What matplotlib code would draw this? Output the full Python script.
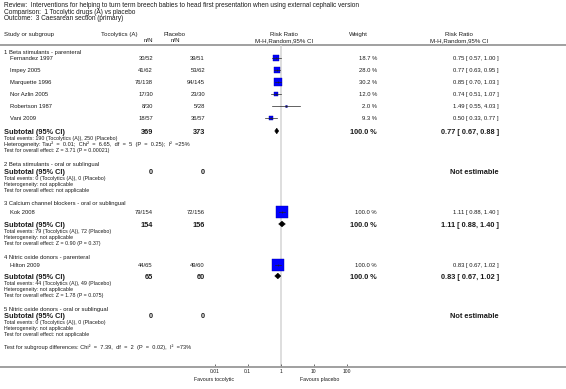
import matplotlib
matplotlib.use("Agg")
import matplotlib.pyplot as plt
from matplotlib.patches import Polygon

plt.rcParams['font.family'] = ['Liberation Sans', 'DejaVu Sans']

# ---- data ----
title_lines = [
    "Review:  Interventions for helping to turn term breech babies to head first presentation when using external cephalic version",
    "Comparison:  1 Tocolytic drugs (A) vs placebo",
    "Outcome:  3 Caesarean section (primary)",
]

group_titles = [
    "1 Beta stimulants - parenteral",
    "2 Beta stimulants - oral or sublingual",
    "3 Calcium channel blockers - oral or sublingual",
    "4 Nitric oxide donors - parenteral",
    "5 Nitric oxide donors - oral or sublingual",
]

studies = ["Fernandez 1997", "Impey 2005", "Marquette 1996", "Nor Azlin 2005",
           "Robertson 1987", "Vani 2009", "Kok 2008", "Hilton 2009"]
toco_nN = ["30/52", "41/62", "76/138", "17/30", "8/30", "18/57", "79/154", "44/65"]
plac_nN = ["39/51", "53/62", "94/145", "23/30", "5/28", "36/57", "72/156", "49/60"]
weights = [18.7, 28.0, 30.2, 12.0, 2.0, 9.3, 100.0, 100.0]
rr = [0.75, 0.77, 0.85, 0.74, 1.49, 0.50, 1.11, 0.83]
rr_lo = [0.57, 0.63, 0.70, 0.51, 0.55, 0.33, 0.88, 0.67]
rr_hi = [1.00, 0.95, 1.03, 1.07, 4.03, 0.77, 1.40, 1.02]

sub_n_toco = [369, 0, 154, 65, 0]
sub_n_plac = [373, 0, 156, 60, 0]
sub_rr = [0.77, None, 1.11, 0.83, None]
sub_lo = [0.67, None, 0.88, 0.67, None]
sub_hi = [0.88, None, 1.40, 1.02, None]
sub_events = [
    "Total events: 190 (Tocolytics (A)), 250 (Placebo)",
    "Total events: 0 (Tocolytics (A)), 0 (Placebo)",
    "Total events: 79 (Tocolytics (A)), 72 (Placebo)",
    "Total events: 44 (Tocolytics (A)), 49 (Placebo)",
    "Total events: 0 (Tocolytics (A)), 0 (Placebo)",
]
sub_het = [
    "Heterogeneity: Tau\u00b2 = 0.01; Chi\u00b2 = 6.65, df = 5 (P = 0.25); I\u00b2 =25%",
    "Heterogeneity: not applicable",
    "Heterogeneity: not applicable",
    "Heterogeneity: not applicable",
    "Heterogeneity: not applicable",
]
sub_test = [
    "Test for overall effect: Z = 3.71 (P = 0.00021)",
    "Test for overall effect: not applicable",
    "Test for overall effect: Z = 0.90 (P = 0.37)",
    "Test for overall effect: Z = 1.78 (P = 0.075)",
    "Test for overall effect: not applicable",
]
subgroup_test = "Test for subgroup differences: Chi\u00b2 = 7.39, df = 2 (P = 0.02), I\u00b2 =73%"

ticks = [0.01, 0.1, 1, 10, 100]
tick_labels = ["0.01", "0.1", "1", "10", "100"]

# ---- layout (pixels) ----
W, H = 566, 389
X_ONE, DECADE = 280.5, 33.0
header_line_y = 44.5
axis_y = 366.5
title_y = [5, 11.5, 18]
group_y = [51.5, 164, 203, 256.5, 308.5]
study_y = [58, 70, 82, 94, 106, 118, 211.5, 264.5]
sub_y = [131, 171, 224, 276, 315.5]
small_step = 6
subgroup_y = 347

x_left, x_study = 4, 10
x_toco, x_plac = 153, 205
x_weight, x_ci = 377, 499

txt = '#1a1a1a'
fs_title, fs_head, fs_row, fs_small, fs_bold = 4.7, 4.4, 4.2, 3.8, 5.3


def put(x, y, s, fs, ha='left', bold=False):
    # y is the visual centre of the capitals, in pixels
    ax.text(x, y + 0.36 * fs * 100 / 72, s, fontsize=fs, color=txt, ha=ha,
            va='baseline', weight='bold' if bold else 'normal')


def stats_line(s):
    # the statistics lines are set wider in the source; widen the gaps
    head, rest = s.split(': ', 1)
    if '\u00b2' not in rest:
        return s, fs_small
    return head + ': ' + rest.replace(' ', '  '), 4.1


fig = plt.figure(figsize=(W / 100, H / 100), dpi=100)
ax = fig.add_axes([0, 0, 1, 1])
ax.set_xlim(0, W)
ax.set_ylim(H, 0)
ax.axis('off')

fx = fig.add_axes([0, 0, 1, 1])
fx.set_xscale('log')
fx.set_xlim(10 ** (-X_ONE / DECADE), 10 ** ((W - X_ONE) / DECADE))
fx.set_ylim(H, 0)
fx.patch.set_alpha(0)
for s in ['top', 'left', 'right']:
    fx.spines[s].set_visible(False)
fx.spines['bottom'].set_position(('data', axis_y))
fx.spines['bottom'].set_color('#a0a0a0')
fx.spines['bottom'].set_linewidth(1.4)
fx.set_yticks([])
fx.set_xticks(ticks)
fx.set_xticklabels(tick_labels)
fx.minorticks_off()
fx.tick_params(axis='x', direction='in', length=2.5, width=0.5, color='#333333',
               labelsize=3.6, pad=1.8, labelcolor=txt)

# titles and header
for t, y in zip(title_lines, title_y):
    put(x_left, y, t, fs_title)
put(x_left, 34, "Study or subgroup", fs_head)
put(101, 34, "Tocolytics (A)", fs_head)
put(x_toco, 40, "n/N", fs_head, ha='right')
put(163, 34, "Placebo", fs_head)
put(180, 40, "n/N", fs_head, ha='right')
put(284, 34, "Risk Ratio", fs_head, ha='center')
put(284, 40, "M-H,Random,95% CI", fs_head, ha='center')
put(349, 34, "Weight", fs_head)
put(459, 34, "Risk Ratio", fs_head, ha='center')
put(459, 40, "M-H,Random,95% CI", fs_head, ha='center')
ax.axhline(header_line_y, color='#a0a0a0', lw=1.4)

# reference line at RR = 1
fx.vlines(1, header_line_y, axis_y, color='#d4d4d4', lw=1.1, zorder=1)

# studies
for i, name in enumerate(studies):
    y = study_y[i]
    put(x_study, y, name, fs_row)
    put(x_toco, y, toco_nN[i], fs_row, ha='right')
    put(x_plac, y, plac_nN[i], fs_row, ha='right')
    put(x_weight, y, f"{weights[i]:.1f} %", fs_row, ha='right')
    put(x_ci, y, f"{rr[i]:.2f} [ {rr_lo[i]:.2f}, {rr_hi[i]:.2f} ]", fs_row, ha='right')
    side = 9.2 * (weights[i] / 100) ** 0.5
    fx.plot([rr[i]], [y], marker='s', markersize=side, color='#0000ff',
            markeredgecolor='#0000a0', markeredgewidth=0.3, zorder=3)
    fx.plot([rr_lo[i], rr_hi[i]], [y, y], color='#222222', lw=0.5, zorder=4)
    fx.plot([rr[i]], [y], marker='|', markersize=2, color='#222222', mew=0.5, zorder=4)

# subgroups
for g, title in enumerate(group_titles):
    put(x_left, group_y[g], title, fs_row)
    y = sub_y[g]
    put(x_left, y, "Subtotal (95% CI)", fs_bold, bold=True)
    put(x_toco, y, str(sub_n_toco[g]), fs_bold, ha='right', bold=True)
    put(x_plac, y, str(sub_n_plac[g]), fs_bold, ha='right', bold=True)
    if sub_rr[g] is None:
        put(x_ci, y, "Not estimable", fs_bold, ha='right', bold=True)
    else:
        put(x_weight, y, "100.0 %", fs_bold, ha='right', bold=True)
        put(x_ci, y, f"{sub_rr[g]:.2f} [ {sub_lo[g]:.2f}, {sub_hi[g]:.2f} ]",
            fs_bold, ha='right', bold=True)
        dia = Polygon([(sub_lo[g], y), (sub_rr[g], y - 2.8), (sub_hi[g], y), (sub_rr[g], y + 2.8)],
                      closed=True, facecolor='black', edgecolor='black', lw=0.4, zorder=4)
        fx.add_patch(dia)
    for k, line in enumerate([sub_events[g], sub_het[g], sub_test[g]]):
        s, fs = stats_line(line)
        put(x_left, y + 7 + small_step * k, s, fs)

s, fs = stats_line(subgroup_test)
put(x_left, subgroup_y, s, fs)
put(234, 379, "Favours tocolytic", fs_small, ha='right')
put(300, 379, "Favours placebo", fs_small)

fig.savefig("out.png", dpi=100)
